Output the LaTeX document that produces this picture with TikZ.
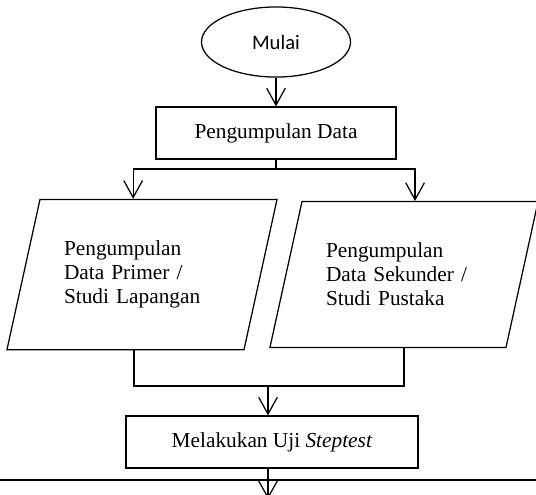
\documentclass[tikz,border=0pt]{standalone}
\usepackage{fontspec}
\setmainfont{Liberation Serif}
\newfontfamily\calibri{Carlito}
\usetikzlibrary{positioning,shapes.geometric,arrows.meta}
\tikzset{
    garis/.style={line width=0.7pt},
    panah/.style={garis,-{Straight Barb[length=9.5pt,width=10.5pt]}},
    proses/.style={draw,garis,rectangle,minimum height=29.25pt,inner sep=0pt,font=\fontsize{12}{14}\selectfont},
    dataIO/.style={draw,garis,trapezium,trapezium left angle=77.6,trapezium right angle=102.4,
        inner xsep=13.5pt,inner ysep=23.4pt,
        text width=87.75pt,align=left,font=\fontsize{12}{13.4}\selectfont}
}

\begin{document}
\begin{tikzpicture}[x=0.5625pt,y=-0.5625pt]
      \useasboundingbox (0,0) rectangle (536,494);
      \node[draw,garis,ellipse,minimum width=83.8pt,minimum height=39.4pt,inner sep=0pt,
          font=\calibri\fontsize{11.6}{14}\selectfont] (mulai) at (276,42) {Mulai};
      \node[proses,minimum width=135pt] (kumpul) at (276,133) {Pengumpulan Data};

      \node[dataIO] (primer) at (142,274.5) {Pengumpulan\\Data Primer /\\Studi Lapangan};
      \node[dataIO] (sekunder) at (404,274.5) {Pengumpulan\\Data Sekunder /\\Studi Pustaka};

      \node[proses,minimum width=164.25pt] (uji) at (272,442) {Melakukan Uji \textit{Steptest}};

      \coordinate (cabang) at (276,169);
      \coordinate (gabung) at (268,386);
      \coordinate (batasKiri) at (0,480);
      \coordinate (batasKanan) at (536,480);
      \coordinate (lanjut) at (268,499);

      \draw[panah] (mulai) -- (kumpul);
      \draw[garis] (kumpul) -- (cabang);
      \draw[panah] (cabang) -| ([xshift=-5pt]primer.north);
      \draw[panah] (cabang) -| ([xshift=6.2pt]sekunder.north);

      \draw[garis] ([xshift=-4.5pt]primer.south) |- (gabung) -| (sekunder.south);
      \draw[panah] (gabung) -- (gabung |- uji.north);

      \draw[garis] (batasKiri) -- (batasKanan);
      \draw[panah] (uji.south -| lanjut) -- (lanjut);
  \end{tikzpicture}
\end{document}
